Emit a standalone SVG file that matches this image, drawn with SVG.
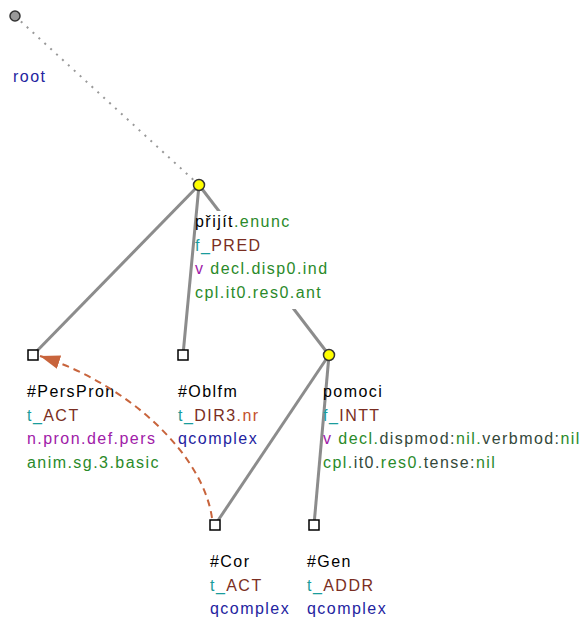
<svg xmlns="http://www.w3.org/2000/svg" width="584" height="623" viewBox="0 0 584 623">
<style>
text{font-family:"Liberation Sans",Arial,sans-serif;font-size:16px;letter-spacing:1.45px}
.edge{stroke:#8c8c8c;stroke-width:3;fill:none}
.k{fill:#000}.tl{fill:#1a9c9c}.fn{fill:#7a2e22}.pu{fill:#a020a8}.gr{fill:#2a8a2a}.dk{fill:#34483a}.bl{fill:#2424a0}.rd{fill:#c4502c}
.sq{fill:#fff;stroke:#000;stroke-width:1.5}
.yc{fill:#ffff00;stroke:#333;stroke-width:1.5}
</style>
<defs>
<marker id="ah" markerUnits="userSpaceOnUse" markerWidth="22" markerHeight="16" refX="20" refY="7" orient="auto">
<path d="M0,0 L20,7 L0,14 z" fill="#c8643c"/>
</marker>
</defs>
<rect width="584" height="623" fill="#fff"/>
<g id="connectors">
<line x1="15" y1="16" x2="199" y2="185" stroke="#999" stroke-width="2" stroke-dasharray="2 6"/>
<line class="edge" x1="199" y1="185" x2="33" y2="355"/>
<line class="edge" x1="199" y1="185" x2="183" y2="355"/>
<line class="edge" x1="199" y1="185" x2="329" y2="355"/>
<line class="edge" x1="329" y1="355" x2="215" y2="525"/>
<line class="edge" x1="329" y1="355" x2="314" y2="525"/>
</g>
<g id="root">
<circle cx="15" cy="16" r="5" fill="#9a9a9a" stroke="#333" stroke-width="1.5"/>
<text x="13" y="82" class="bl">root</text>
</g>
<g id="prijit">
<rect x="198" y="211" width="126" height="98" fill="#fff"/>
<circle cx="199" cy="185" r="5.5" class="yc"/>
<text x="195" y="227"><tspan class="k">přijít</tspan><tspan class="gr">.enunc</tspan></text>
<text x="195" y="251"><tspan class="tl">f_</tspan><tspan class="fn">PRED</tspan></text>
<text x="195" y="274"><tspan class="pu">v</tspan><tspan class="gr"> decl.disp0.ind</tspan></text>
<text x="195" y="298" class="gr">cpl.it0.res0.ant</text>
</g>
<g id="perspron">
<rect x="28" y="350" width="10" height="10" class="sq"/>
<text x="27" y="397" class="k">#PersPron</text>
<text x="27" y="421"><tspan class="tl">t_</tspan><tspan class="fn">ACT</tspan></text>
<text x="27" y="444" class="pu">n.pron.def.pers</text>
<text x="27" y="468" class="gr">anim.sg.3.basic</text>
</g>
<g id="oblfm">
<rect x="178" y="350" width="10" height="10" class="sq"/>
<text x="178" y="397" class="k">#Oblfm</text>
<text x="178" y="421"><tspan class="tl">t_</tspan><tspan class="fn">DIR3</tspan><tspan class="rd">.nr</tspan></text>
<text x="178" y="444" class="bl">qcomplex</text>
</g>
<g id="pomoci">
<circle cx="329" cy="355" r="5.5" class="yc"/>
<text x="323" y="397" class="k">pomoci</text>
<text x="323" y="421"><tspan class="tl">f_</tspan><tspan class="fn">INTT</tspan></text>
<text x="323" y="444"><tspan class="pu">v</tspan><tspan class="gr"> decl.</tspan><tspan class="dk">dispmod:</tspan><tspan class="gr">nil.</tspan><tspan class="dk">verbmod:</tspan><tspan class="gr">nil</tspan></text>
<text x="323" y="468"><tspan class="gr">cpl.</tspan><tspan class="dk">it0.</tspan><tspan class="gr">res0.</tspan><tspan class="dk">tense:</tspan><tspan class="gr">nil</tspan></text>
</g>
<g id="cor">
<rect x="210" y="520" width="10" height="10" class="sq"/>
<text x="210" y="567" class="k">#Cor</text>
<text x="210" y="591"><tspan class="tl">t_</tspan><tspan class="fn">ACT</tspan></text>
<text x="210" y="614" class="bl">qcomplex</text>
</g>
<g id="gen">
<rect x="309" y="520" width="10" height="10" class="sq"/>
<text x="307" y="567" class="k">#Gen</text>
<text x="307" y="591"><tspan class="tl">t_</tspan><tspan class="fn">ADDR</tspan></text>
<text x="307" y="614" class="bl">qcomplex</text>
</g>
<g id="coref">
<path d="M212,518 C203,455 130,385 40,356" fill="none" stroke="#c8643c" stroke-width="2" stroke-dasharray="7 5" marker-end="url(#ah)"/>
</g>
</svg>
